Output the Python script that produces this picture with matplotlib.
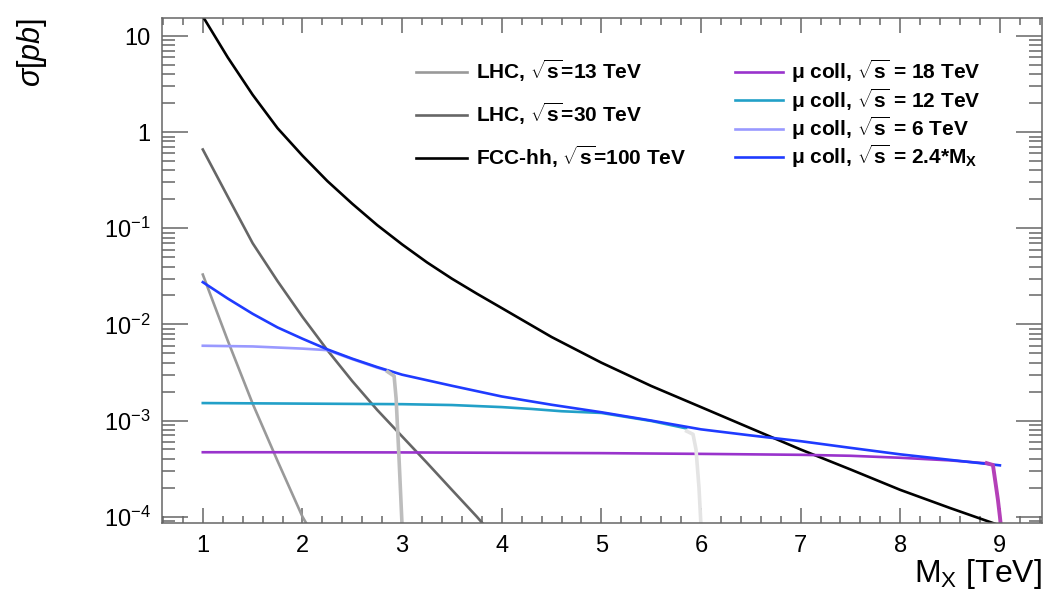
import numpy as np
import matplotlib
matplotlib.use("Agg")
import matplotlib.pyplot as plt
from matplotlib.ticker import MultipleLocator, LogLocator, FuncFormatter, NullFormatter
from matplotlib.font_manager import FontProperties

plt.rcParams['font.family'] = ['Liberation Sans', 'DejaVu Sans']
plt.rcParams['mathtext.fontset'] = 'custom'
plt.rcParams['mathtext.rm'] = 'Liberation Sans'
plt.rcParams['mathtext.it'] = 'Liberation Sans:italic'
plt.rcParams['mathtext.bf'] = 'Liberation Sans:bold'

# cross sections in pb vs M_X in TeV
m_lhc13 = [1.0, 1.25, 1.5, 1.75, 2.0, 2.06]
s_lhc13 = [0.033, 6.8e-3, 1.5e-3, 3.8e-4, 1.0e-4, 0.78e-4]

m_lhc30 = [1.0, 1.25, 1.5, 1.75, 2.0, 2.25, 2.5, 2.75, 3.0, 3.25, 3.5, 3.75, 3.85]
s_lhc30 = [0.66, 0.214, 0.07, 0.0282, 0.012, 5.4e-3, 2.57e-3, 1.29e-3, 6.84e-4, 3.63e-4, 1.9e-4, 1.0e-4, 0.76e-4]

m_fcc = [1.0, 1.25, 1.5, 1.75, 2.0, 2.25, 2.5, 2.75, 3.0, 3.25, 3.5, 3.75, 4.0, 4.5, 5.0, 5.5, 6.0,
         6.5, 7.0, 7.5, 8.0, 8.5, 9.0]
s_fcc = [16.0, 6.0, 2.45, 1.1, 0.57, 0.31, 0.18, 0.108, 0.068, 0.0442, 0.0299, 0.0209, 0.0148, 7.4e-3,
         4.0e-3, 2.29e-3, 1.38e-3, 8.3e-4, 5.0e-4, 3.1e-4, 1.9e-4, 1.23e-4, 0.81e-4]

m_mu24 = [1.0, 1.25, 1.5, 1.75, 2.0, 2.25, 2.5, 2.75, 3.0, 3.5, 4.0, 4.5, 5.0, 5.5, 6.0, 6.5, 7.0, 7.5, 8.0, 8.5, 9.0]
s_mu24 = [0.0275, 0.0186, 0.0129, 9.3e-3, 7.1e-3, 5.5e-3, 4.4e-3, 3.6e-3, 3.0e-3, 2.3e-3, 1.78e-3, 1.46e-3,
          1.22e-3, 1.0e-3, 8.1e-4, 7.0e-4, 6.1e-4, 5.2e-4, 4.45e-4, 3.9e-4, 3.42e-4]

m_mu6 = [1.0, 1.5, 2.0, 2.25, 2.5, 2.75, 2.85]
s_mu6 = [6.0e-3, 5.9e-3, 5.6e-3, 5.4e-3, 4.35e-3, 3.55e-3, 3.3e-3]
m_mu6_end = [2.84, 2.92, 2.94, 2.97, 3.0]
s_mu6_end = [3.3e-3, 2.9e-3, 1.7e-3, 3.9e-4, 0.8e-4]

m_mu12 = [1.0, 2.0, 3.0, 3.5, 4.0, 4.3, 4.6, 5.0, 5.5, 5.85]
s_mu12 = [1.52e-3, 1.5e-3, 1.48e-3, 1.45e-3, 1.38e-3, 1.32e-3, 1.25e-3, 1.2e-3, 9.9e-4, 8.3e-4]
m_mu12_end = [5.84, 5.92, 5.95, 5.98, 6.0]
s_mu12_end = [7.9e-4, 7.2e-4, 5.0e-4, 2.0e-4, 0.8e-4]

m_mu18 = [1.0, 2.0, 3.0, 4.0, 5.0, 6.0, 7.0, 7.5, 8.0, 8.5, 8.85]
s_mu18 = [4.68e-4, 4.68e-4, 4.66e-4, 4.62e-4, 4.58e-4, 4.5e-4, 4.4e-4, 4.3e-4, 4.1e-4, 3.85e-4, 3.6e-4]
m_mu18_end = [8.85, 8.93, 8.96, 8.98, 9.0, 9.01]
s_mu18_end = [3.65e-4, 3.45e-4, 2.1e-4, 1.5e-4, 1.0e-4, 0.8e-4]

fig = plt.figure(figsize=(10.51, 5.92), dpi=100)
ax = fig.add_axes([0.1541, 0.1166, 0.8371, 0.8530])
ax.set_yscale('log')
ax.set_xlim(0.59, 9.42)
ax.set_ylim(0.86e-4, 15.4)

lw = 1.9
l13, = ax.plot(m_lhc13, s_lhc13, color='#999999', lw=lw, label=r'LHC, $\sqrt{\mathbf{s}}$=13 TeV')
l30, = ax.plot(m_lhc30, s_lhc30, color='#666666', lw=lw, label=r'LHC, $\sqrt{\mathbf{s}}$=30 TeV')
lfcc, = ax.plot(m_fcc, s_fcc, color='black', lw=lw, label=r'FCC-hh, $\sqrt{\mathbf{s}}$=100 TeV')

l6, = ax.plot(m_mu6, s_mu6, color='#9999ff', lw=lw, label=r'μ coll, $\sqrt{\mathbf{s}}$ = 6 TeV')
l12, = ax.plot(m_mu12, s_mu12, color='#22a0c8', lw=lw, label=r'μ coll, $\sqrt{\mathbf{s}}$ = 12 TeV')
l18, = ax.plot(m_mu18, s_mu18, color='#9933cc', lw=lw, label=r'μ coll, $\sqrt{\mathbf{s}}$ = 18 TeV')
l24, = ax.plot(m_mu24, s_mu24, color='#1f3bff', lw=lw, label=r'μ coll, $\sqrt{\mathbf{s}}$ = 2.4*$\mathbf{M}_{\mathbf{X}}$')

ax.plot(m_mu6_end, s_mu6_end, color='#bdbdbd', lw=2.6, solid_capstyle='butt')
ax.plot(m_mu12_end, s_mu12_end, color='#e4e4e4', lw=2.6, solid_capstyle='butt')
ax.plot(m_mu18_end, s_mu18_end, color='#b440b8', lw=2.8, solid_capstyle='butt')

# axes styling, ROOT-like ticks inside on all four sides
frame_col = '#666666'
for sp in ax.spines.values():
    sp.set_color(frame_col)
    sp.set_linewidth(1.1)

ax.xaxis.set_major_locator(MultipleLocator(1))
ax.xaxis.set_minor_locator(MultipleLocator(0.2))
ax.yaxis.set_major_locator(LogLocator(base=10, numticks=20))
ax.yaxis.set_minor_locator(LogLocator(base=10, subs=np.arange(2, 10), numticks=20))
ax.yaxis.set_minor_formatter(NullFormatter())


def ylab(v, pos):
    e = int(round(np.log10(v)))
    if e == 1:
        return '10'
    if e == 0:
        return '1'
    return r'$10^{%d}$' % e


ax.yaxis.set_major_formatter(FuncFormatter(ylab))

ax.tick_params(axis='x', which='both', direction='in', top=True, colors=frame_col,
               labelcolor='black', labelsize=17, pad=9, width=1.1)
ax.tick_params(axis='x', which='major', length=11)
ax.tick_params(axis='x', which='minor', length=5)
ax.tick_params(axis='y', which='both', direction='in', right=True, colors=frame_col,
               labelcolor='black', labelsize=17, pad=8, width=1.1)
ax.tick_params(axis='y', which='major', length=19)
ax.tick_params(axis='y', which='minor', length=9.5)

ax.set_xlabel(r'M$_{\mathrm{X}}$ [TeV]', loc='right', fontsize=23, labelpad=0)
ax.set_ylabel(r'$\sigma[pb]$', loc='top', fontsize=22)
ax.yaxis.set_label_coords(-0.128, 1.0)

lp = FontProperties(family='Liberation Sans', weight='bold', size=15)
leg1 = ax.legend(handles=[l13, l30, lfcc], loc='upper left',
                 bbox_to_anchor=(416 / 1051, 1 - 58 / 592), bbox_transform=fig.transFigure,
                 frameon=False, borderpad=0, borderaxespad=0, handlelength=2.45,
                 handletextpad=0.45, labelspacing=0.8, prop=lp)
ax.add_artist(leg1)
leg2 = ax.legend(handles=[l18, l12, l6, l24], loc='upper left',
                 bbox_to_anchor=(735 / 1051, 1 - 58 / 592), bbox_transform=fig.transFigure,
                 frameon=False, borderpad=0, borderaxespad=0, handlelength=2.3,
                 handletextpad=0.4, labelspacing=0.05, prop=lp)

fig.savefig('out.png', dpi=100)
